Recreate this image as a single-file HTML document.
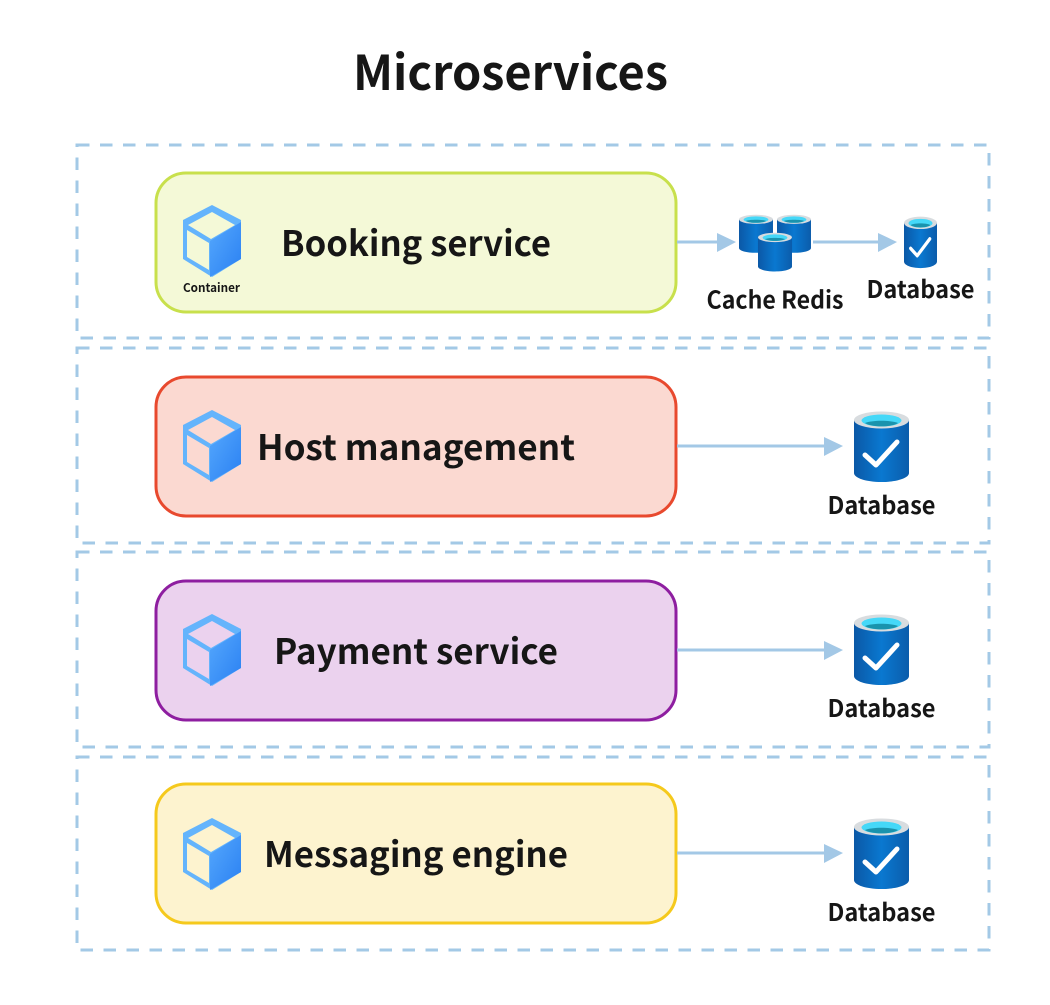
<!DOCTYPE html>
<html><head><meta charset="utf-8"><style>
html,body{margin:0;padding:0;background:#fff}
svg{display:block}
text{font-family:"Noto Sans CJK JP","DejaVu Sans",sans-serif;font-weight:700;fill:#161616}
.d{fill:none;stroke:#a3c9e6;stroke-width:3;stroke-dasharray:12.500 10.500}
.a{stroke:#a3c8e6;stroke-width:3;fill:none}
.h{fill:#a3c8e6}
</style></head><body>
<svg width="1050" height="1005" viewBox="0 0 1050 1005" xmlns="http://www.w3.org/2000/svg">
<defs>
<linearGradient id="cy" x1="0" x2="1" y1="0" y2="0"><stop offset="0" stop-color="#0b58a6"/><stop offset=".5" stop-color="#0a78d0"/><stop offset="1" stop-color="#0b5cab"/></linearGradient>
<linearGradient id="cb" x1="0" x2="1" y1="0" y2="1"><stop offset="0" stop-color="#55a8fd"/><stop offset="1" stop-color="#2a80f2"/></linearGradient>
<g id="db">
<path d="M0 8V61C0 66 12 70 27.500 70S55 66 55 61V8Z" fill="url(#cy)"/>
<ellipse cx="27.500" cy="8" rx="27.500" ry="8.500" fill="#d8dcdf"/>
<ellipse cx="27.500" cy="8.500" rx="20" ry="6" fill="#45d8f8"/>
<path d="M11 11C18 8 37 8 44 11C38 15.500 17 15.500 11 11Z" fill="#1a93ad"/>
</g>
<path id="ck" d="M11 43L22 53L43 30" fill="none" stroke="#fff" stroke-width="5" stroke-linecap="round" stroke-linejoin="round"/>
<path id="cs" d="M0 0L29 15V54L0 72L-29 54V15Z" fill="#64b4fc"/>
<path id="cr" d="M-2 36L29 17V54L-2 72Z" fill="url(#cb)"/>
<path id="ct" d="M0 7L23 20L-1 34L-24 20Z"/>
<path id="cl" d="M-25 25L-3 38V65L-25 52Z"/>
</defs>

<rect class="d" x="77" y="145" width="912" height="193"/>
<rect class="d" x="77" y="348" width="912" height="195"/>
<rect class="d" x="77" y="552" width="912" height="195"/>
<rect class="d" x="77" y="757" width="912" height="193"/>

<text x="353" y="90" font-size="48" textLength="315" lengthAdjust="spacingAndGlyphs">Microservices</text>

<rect x="156" y="173" width="520" height="139" rx="30" fill="#f4f9d7" stroke="#c8e04c" stroke-width="3"/>
<rect x="156" y="377" width="520" height="139" rx="30" fill="#fbd9d1" stroke="#e8492e" stroke-width="3"/>
<rect x="156" y="581" width="520" height="139" rx="30" fill="#ebd2ee" stroke="#8e1ea0" stroke-width="3"/>
<rect x="156" y="784" width="520" height="139" rx="30" fill="#fdf3cf" stroke="#f5c91c" stroke-width="3"/>

<g transform="translate(212,205)" fill="#f4f9d7"><use href="#cs"/><use href="#cr"/><use href="#ct"/><use href="#cl"/></g>
<g transform="translate(212,410)" fill="#fbd9d1"><use href="#cs"/><use href="#cr"/><use href="#ct"/><use href="#cl"/></g>
<g transform="translate(212,614)" fill="#ebd2ee"><use href="#cs"/><use href="#cr"/><use href="#ct"/><use href="#cl"/></g>
<g transform="translate(212,818)" fill="#fdf3cf"><use href="#cs"/><use href="#cr"/><use href="#ct"/><use href="#cl"/></g>

<text x="183" y="292" font-size="12" textLength="57" lengthAdjust="spacingAndGlyphs">Container</text>
<text x="281" y="256" font-size="35" textLength="270" lengthAdjust="spacingAndGlyphs">Booking service</text>
<text x="257" y="460" font-size="35" textLength="318" lengthAdjust="spacingAndGlyphs">Host management</text>
<text x="274" y="664" font-size="35" textLength="284" lengthAdjust="spacingAndGlyphs">Payment service</text>
<text x="264" y="867" font-size="35" textLength="304" lengthAdjust="spacingAndGlyphs">Messaging engine</text>

<path class="a" d="M677 242H719"/><path class="h" d="M717 233L736 242L717 252Z"/>
<path class="a" d="M813 242H880"/><path class="h" d="M878 233L897 242L878 252Z"/>
<path class="a" d="M677 446H826"/><path class="h" d="M824 437L843 446L824 456Z"/>
<path class="a" d="M677 650H826"/><path class="h" d="M824 641L843 650L824 660Z"/>
<path class="a" d="M677 853H826"/><path class="h" d="M824 844L843 853L824 863Z"/>

<use href="#db" transform="translate(739,215) scale(.618,.54)"/>
<use href="#db" transform="translate(777,215) scale(.618,.54)"/>
<use href="#db" transform="translate(758,233) scale(.618,.55)"/>
<g transform="translate(904,217) scale(.6,.73)"><use href="#db"/><use href="#ck"/></g>
<g transform="translate(854,412)"><use href="#db"/><use href="#ck"/></g>
<g transform="translate(854,615)"><use href="#db"/><use href="#ck"/></g>
<g transform="translate(854,819)"><use href="#db"/><use href="#ck"/></g>

<text x="706.500" y="308.500" font-size="24" textLength="137" lengthAdjust="spacingAndGlyphs">Cache Redis</text>
<text x="866.500" y="298" font-size="24" textLength="108" lengthAdjust="spacingAndGlyphs">Database</text>
<text x="827.500" y="514" font-size="24" textLength="108" lengthAdjust="spacingAndGlyphs">Database</text>
<text x="827.500" y="717" font-size="24" textLength="108" lengthAdjust="spacingAndGlyphs">Database</text>
<text x="827.500" y="921" font-size="24" textLength="108" lengthAdjust="spacingAndGlyphs">Database</text>
</svg>
</body></html>
